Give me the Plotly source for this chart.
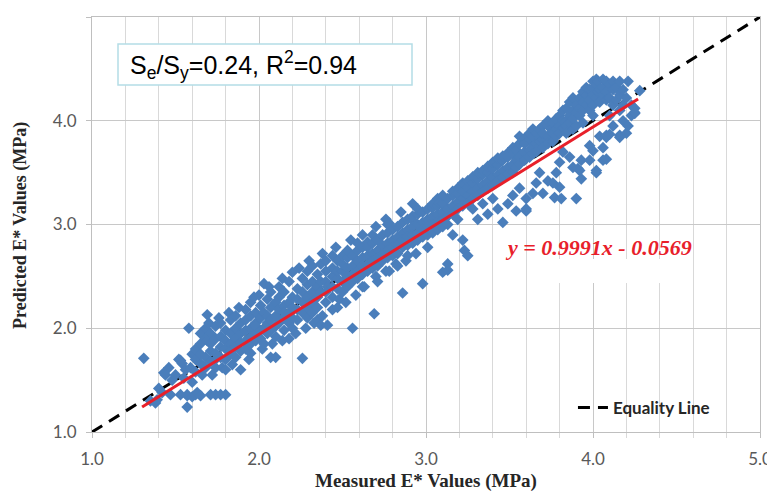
import plotly.graph_objects as go

# ---- scatter data: (measured x, [predicted y values]) ----
seg_13_16 = [
    (1.31, [1.71]), (1.35, [1.30]), (1.38, [1.28]), (1.39, [1.31]), (1.40, [1.42]),
    (1.42, [1.38]), (1.43, [1.57]), (1.44, [1.55]), (1.46, [1.62]), (1.47, [1.36]),
    (1.48, [1.50]), (1.50, [1.55]), (1.52, [1.70]), (1.53, [1.69, 1.36]), (1.54, [1.66]),
    (1.55, [1.52]), (1.56, [1.60]), (1.57, [1.24, 1.35, 1.36]), (1.58, [2.00]),
    (1.59, [1.62]), (1.60, [1.75, 1.48, 1.34]),
]
seg_bottom_row = [
    (1.62, [1.36]), (1.63, [1.38]), (1.65, [1.35]), (1.71, [1.36]), (1.74, [1.36]),
    (1.77, [1.36]), (1.80, [1.36]),
]
seg_16_20 = [
    (1.62, [1.70, 1.80, 1.58]), (1.65, [1.66, 1.85, 1.95, 1.75]),
    (1.66, [1.55]), (1.68, [1.72, 1.62, 1.90, 2.00]), (1.69, [2.13, 1.88]),
    (1.70, [2.05]), (1.71, [1.78, 1.68, 1.95, 1.85]), (1.72, [1.55]),
    (1.74, [1.76, 1.70, 2.02, 1.90, 1.62]), (1.76, [2.10]),
    (1.77, [1.82, 1.92, 1.72, 2.05]), (1.78, [1.62]),
    (1.80, [1.80, 1.60, 1.98, 1.88, 1.70]), (1.82, [2.15]),
    (1.83, [1.85, 1.95, 2.08, 1.75, 1.78]), (1.84, [1.65]),
    (1.86, [1.90, 2.00, 1.82, 1.72, 2.12]), (1.88, [2.20]),
    (1.89, [1.60, 1.95, 2.05, 1.86, 1.78]), (1.92, [1.98, 1.88, 2.18, 2.08, 1.80]),
    (1.94, [1.70]), (1.95, [1.76, 2.00, 1.92, 2.12, 2.25, 1.85]),
    (1.97, [2.30]), (1.98, [2.05, 1.95, 2.15, 1.88, 2.02]),
]
seg_20_25 = [
    (2.00, [2.32]), (2.01, [2.10, 1.98, 2.22, 1.90]), (2.02, [1.80]),
    (2.03, [2.43, 2.00, 2.15, 1.85]), (2.05, [2.05, 2.28, 1.95, 2.12]),
    (2.06, [2.40]), (2.07, [1.72, 2.20, 2.08, 1.98, 2.35]), (2.08, [1.85]),
    (2.10, [1.72, 2.12, 2.25, 2.02, 1.92]), (2.12, [2.18, 2.30, 2.05, 2.40]),
    (2.14, [1.88, 2.48]), (2.15, [2.10, 2.22, 1.98, 2.35, 2.15]),
    (2.18, [2.25, 1.90, 2.15, 2.05, 2.45]), (2.20, [2.54, 2.20, 2.30, 2.10, 2.00]),
    (2.22, [1.95]), (2.23, [2.28, 2.18, 2.38, 2.08]), (2.24, [2.58]),
    (2.26, [1.71, 2.25, 2.35, 2.15, 2.48]), (2.28, [2.00]),
    (2.29, [2.30, 2.20, 2.42, 2.10, 2.55]), (2.30, [2.65]),
    (2.32, [2.35, 2.25, 2.45, 2.15, 2.60]), (2.33, [2.05]),
    (2.35, [2.40, 2.30, 2.52, 2.20, 2.08]), (2.37, [2.03, 2.45, 2.35, 2.62]),
    (2.38, [2.12, 2.72]), (2.40, [2.45, 2.35, 2.55, 2.25, 2.65]),
    (2.41, [2.03, 2.40]), (2.44, [2.70, 2.50, 2.40, 2.58, 2.30, 2.18]),
    (2.46, [2.78]), (2.47, [2.48, 2.55, 2.38, 2.65, 2.20]), (2.48, [2.28]),
]
seg_25_30 = [
    (2.50, [2.55, 2.45, 2.62, 2.35, 2.70]), (2.52, [2.25]),
    (2.53, [2.58, 2.50, 2.68, 2.40, 2.75]), (2.55, [2.85]),
    (2.56, [2.00, 2.60, 2.52, 2.70, 2.45]), (2.58, [2.32]),
    (2.59, [2.65, 2.55, 2.75, 2.48, 2.82]), (2.62, [2.68, 2.60, 2.78, 2.52, 2.40, 2.90]),
    (2.63, [2.40]), (2.65, [2.83, 2.70, 2.62, 2.78, 2.55]),
    (2.68, [2.72, 2.65, 2.82, 2.58, 2.90]), (2.69, [2.14]),
    (2.70, [2.50, 2.98]), (2.71, [2.75, 2.68, 2.85, 2.60, 2.45]),
    (2.74, [2.80, 2.72, 2.90, 2.65]), (2.76, [2.55, 3.05]),
    (2.77, [2.82, 2.75, 2.92, 2.68, 3.00]), (2.78, [3.01, 2.55]),
    (2.80, [2.85, 2.78, 2.95, 2.70]), (2.82, [2.62]),
    (2.83, [2.88, 2.80, 2.98, 2.72, 2.60]), (2.85, [3.12]),
    (2.86, [2.34, 2.92, 2.85, 3.02, 2.78]), (2.88, [2.65]),
    (2.89, [2.95, 2.88, 3.05, 2.80, 2.70]), (2.92, [3.04, 2.98, 2.90, 3.08, 2.82, 3.20]),
    (2.94, [2.72]), (2.95, [3.00, 2.92, 3.10, 2.85, 3.15]),
    (2.98, [2.43, 3.02, 2.95, 3.12, 2.88]),
]
seg_30_35 = [
    (3.01, [3.05, 2.98, 3.15, 2.90, 2.78]), (3.04, [3.16, 3.08, 3.00, 3.20, 2.92]),
    (3.07, [3.10, 3.18, 3.03, 3.25, 2.95]), (3.08, [3.21]),
    (3.10, [2.54, 3.12, 3.20, 3.05, 3.28, 2.98]), (3.13, [2.62, 2.56, 3.15, 3.25, 3.08, 3.00]),
    (3.16, [3.18, 3.28, 3.10, 3.32, 2.90]), (3.19, [3.35, 3.22, 3.30, 3.15, 3.05]),
    (3.20, [3.35]), (3.22, [3.25, 3.32, 3.18, 3.40, 2.85]), (3.23, [2.75]),
    (3.25, [2.70, 3.28, 3.36, 3.20, 3.42]), (3.28, [3.32, 3.40, 3.25, 3.46, 3.15]),
    (3.31, [3.35, 3.44, 3.28, 3.50, 3.05]), (3.34, [3.38, 3.48, 3.32, 3.52, 3.20]),
    (3.37, [3.42, 3.50, 3.35, 3.56, 3.10]), (3.40, [3.45, 3.54, 3.38, 3.60, 3.25]),
    (3.41, [3.60]), (3.43, [3.48, 3.58, 3.42, 3.64, 3.15]),
    (3.46, [3.02, 3.52, 3.62, 3.45, 3.66]), (3.49, [3.69, 3.55, 3.65, 3.48, 3.20]),
]
seg_35_40 = [
    (3.52, [3.58, 3.68, 3.50, 3.74, 3.28]), (3.54, [3.13, 3.62, 3.72, 3.55]),
    (3.56, [3.65, 3.78, 3.58, 3.85, 3.35]), (3.59, [3.83, 3.70, 3.62, 3.78]),
    (3.60, [3.13, 3.15, 3.25]), (3.62, [3.72, 3.82, 3.65, 3.88]),
    (3.64, [3.30, 3.75, 3.85, 3.68, 3.92]), (3.66, [3.78, 3.70, 3.88, 3.40]),
    (3.68, [3.84, 3.75, 3.92, 3.80, 3.50]), (3.70, [3.82, 3.95, 3.74, 3.88, 3.30]),
    (3.73, [3.42, 3.85, 3.95, 3.78, 4.00]), (3.76, [3.40, 3.90, 3.88, 3.98, 3.80]),
    (3.77, [3.26]), (3.78, [3.50, 3.92, 4.02, 3.85]),
    (3.80, [3.36, 3.95, 4.05, 3.88, 3.60]), (3.81, [3.25]),
    (3.82, [3.93, 4.00, 4.10, 3.70]), (3.84, [4.00, 3.95, 4.12, 3.88]),
    (3.86, [4.05, 3.98, 4.18, 3.65]), (3.88, [4.10, 4.02, 4.22, 3.92, 3.55]),
    (3.90, [3.25, 4.08, 4.15, 3.95]), (3.91, [3.54]), (3.92, [4.22, 4.12, 4.05, 3.52]),
    (3.93, [3.44, 3.62]), (3.94, [4.18, 4.28, 4.10, 3.98]), (3.96, [4.25, 4.15, 4.32]),
    (3.98, [3.62, 3.76, 4.20, 4.30, 4.10]),
]
seg_40_43 = [
    (4.00, [4.31, 3.71, 4.25, 4.38, 4.15, 4.05]), (4.02, [3.50, 3.52, 4.35, 4.22, 4.40]),
    (4.03, [4.38, 4.28]), (4.04, [3.85, 4.30, 4.18]),
    (4.06, [3.74, 3.62, 4.40, 4.32, 4.25]), (4.08, [3.63, 3.84, 3.86, 4.38, 4.28, 4.20]),
    (4.10, [3.87, 4.35, 4.22, 4.05]), (4.12, [4.38, 4.30, 4.15, 3.95]),
    (4.14, [4.32, 4.20]), (4.16, [3.86, 3.84, 4.38, 4.25, 4.10]),
    (4.18, [4.30, 4.15, 4.00]), (4.20, [3.88, 4.22]), (4.21, [3.95, 4.38]),
    (4.23, [4.15, 4.05]), (4.25, [4.07, 4.12, 4.08]), (4.28, [4.29]),
]

# regression line (trendline reported on chart) and equality line
FIT_SLOPE = 0.9991
FIT_INTERCEPT = -0.0569
FIT_X = [1.30, 4.27]
EQUALITY = [1.0, 5.0]

AXIS_TICKS = [1.0, 2.0, 3.0, 4.0, 5.0]

segments = [seg_13_16, seg_bottom_row, seg_16_20, seg_20_25, seg_25_30,
            seg_30_35, seg_35_40, seg_40_43]
measured, predicted = [], []
for seg in segments:
    for xv, ys in seg:
        for yv in ys:
            measured.append(xv)
            predicted.append(yv)

fit_y = [FIT_SLOPE * v + FIT_INTERCEPT for v in FIT_X]

fig = go.Figure()
fig.add_trace(go.Scatter(
    x=EQUALITY, y=EQUALITY, mode="lines", name="Equality Line",
    line=dict(color="black", width=3, dash="12px,8px"), showlegend=True))
fig.add_trace(go.Scatter(
    x=measured, y=predicted, mode="markers", showlegend=False,
    marker=dict(symbol="diamond", size=9, color="#4A7EBB", line=dict(width=0))))
fig.add_trace(go.Scatter(
    x=FIT_X, y=fit_y, mode="lines", showlegend=False,
    line=dict(color="#E8202A", width=3)))

tickfont = dict(family="Lato", size=17, color="#595959")
axis_common = dict(
    range=[1, 5], tickvals=AXIS_TICKS, tickformat=".1f", tickfont=tickfont,
    showgrid=True, gridcolor="#C8C8C8", gridwidth=1,
    showline=True, linecolor="#BFBFBF", linewidth=1, mirror=True,
    ticks="outside", ticklen=5, tickcolor="#BFBFBF", zeroline=False,
    automargin=False,
)
fig.update_xaxes(**axis_common, ticklabelstandoff=7,
                 minor=dict(dtick=0.2, showgrid=True, gridcolor="#D9D9D9",
                            ticks="outside", ticklen=5, tickcolor="#D9D9D9"))
fig.update_yaxes(**axis_common, ticklabelstandoff=6)

# the page body has an 8px default margin, so the figure is 8px smaller
fig.update_layout(
    width=767, height=483,
    margin=dict(l=84, r=15, t=9, b=59),
    paper_bgcolor="white", plot_bgcolor="white",
    legend=dict(x=0.72, y=(432 - 408) / 415, xanchor="left", yanchor="middle",
                bgcolor="rgba(0,0,0,0)", itemwidth=30,
                font=dict(family="Lato", size=17, color="#262626", weight="bold")),
    shapes=[
        dict(type="rect", xref="paper", yref="paper",
             x0=(118 - 92) / 668, x1=(412 - 92) / 668,
             y0=(432 - 85) / 415, y1=(432 - 44) / 415,
             fillcolor="white", line=dict(color="#B4DDE6", width=1.5), layer="above"),
        dict(type="rect", xref="paper", yref="paper",
             x0=(535 - 92) / 668, x1=(662 - 92) / 668,
             y0=(432 - 283) / 415, y1=(432 - 259) / 415,
             fillcolor="white", line=dict(width=0), layer="above"),
    ],
    annotations=[
        dict(text="S<sub>e</sub>/S<sub>y</sub>=0.24, R<sup>2</sup>=0.94",
             xref="paper", yref="paper", x=(128 - 92) / 668, y=(432 - 65) / 415,
             xanchor="left", yanchor="middle", showarrow=False,
             font=dict(family="Liberation Sans", size=25, color="black")),
        dict(text="<b><i>y = 0.9991x - 0.0569</i></b>",
             xref="paper", yref="paper", x=(598 - 92) / 668, y=(432 - 247) / 415,
             xanchor="center", yanchor="middle", showarrow=False,
             font=dict(family="Liberation Serif", size=22, color="#E8202A")),
        dict(text="<b>Measured E* Values (MPa)</b>",
             xref="paper", yref="paper", x=(426 - 92) / 668, y=(432 - 481) / 415,
             xanchor="center", yanchor="middle", showarrow=False,
             font=dict(family="Liberation Serif", size=19, color="#262626")),
        dict(text="<b>Predicted E* Values (MPa)</b>", textangle=-90,
             xref="paper", yref="paper", x=(20 - 92) / 668, y=(432 - 226) / 415,
             xanchor="center", yanchor="middle", showarrow=False,
             font=dict(family="Liberation Serif", size=18, color="#262626")),
    ],
)

fig.write_html("out.html")
